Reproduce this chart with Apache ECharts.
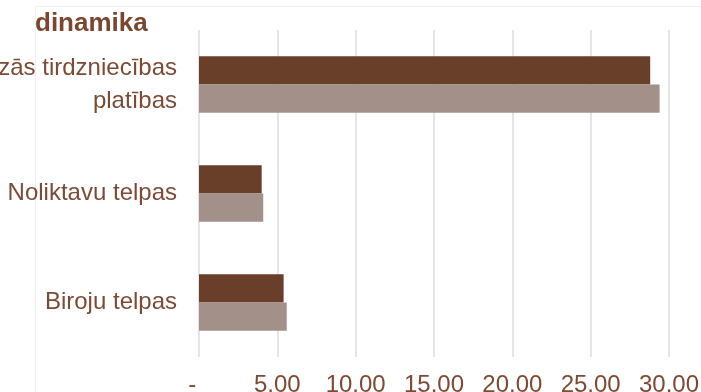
<!DOCTYPE html>
<html>
<head>
<meta charset="utf-8">
<script src="https://cdn.jsdelivr.net/npm/echarts@6/dist/echarts.min.js"></script>
<style>
html,body{margin:0;padding:0;background:#fff;}
#c{width:701px;height:392px;}
</style>
</head>
<body>
<div id="c"></div>
<script>
const titleText = 'dinamika';
const categories = ['Mazās tirdzniecības\nplatības', 'Noliktavu telpas', 'Biroju telpas'];
const seriesNames = ['Sērija 1', 'Sērija 2'];
const series1 = [28.8, 4.0, 5.4];
const series2 = [29.4, 4.1, 5.6];
const xTicks = { min: 0, max: 30, interval: 5 };

const textColor = '#7d4a34';
const fontFam = "'Liberation Sans', Arial, sans-serif";
const chart = echarts.init(document.getElementById('c'));
chart.setOption({
  animation: false,
  backgroundColor: '#ffffff',
  title: {
    text: titleText,
    left: 30,
    top: 6,
    textStyle: { fontFamily: fontFam, fontSize: 26, fontWeight: 'bold', color: '#7a4630' }
  },
  graphic: [{
    type: 'rect',
    silent: true,
    z: -10,
    shape: { x: 35.5, y: 6.5, width: 700, height: 420 },
    style: { fill: 'none', stroke: '#f0f0f0', lineWidth: 1 }
  }],
  grid: { left: 199, right: 32, top: 30, bottom: 35, containLabel: false, outerBoundsMode: 'none' },
  xAxis: {
    type: 'value',
    min: xTicks.min,
    max: xTicks.max,
    interval: xTicks.interval,
    axisLine: { show: false },
    axisTick: { show: false },
    splitLine: { show: true, lineStyle: { color: '#dcdcdc', width: 1.5 } },
    axisLabel: {
      margin: 16,
      color: textColor,
      fontFamily: fontFam,
      fontSize: 24,
      formatter: function (v) { return v === 0 ? '-  ' : v.toFixed(2); }
    }
  },
  yAxis: {
    type: 'category',
    inverse: true,
    data: categories,
    axisLine: { show: false },
    axisTick: { show: false },
    splitLine: { show: false },
    axisLabel: {
      margin: 22,
      color: textColor,
      fontFamily: fontFam,
      fontSize: 24,
      lineHeight: 33,
      align: 'right'
    }
  },
  series: [
    {
      name: seriesNames[0],
      type: 'bar',
      data: series1,
      barGap: '0%',
      barCategoryGap: '48%',
      itemStyle: { color: '#693f2a' }
    },
    {
      name: seriesNames[1],
      type: 'bar',
      data: series2,
      barGap: '0%',
      barCategoryGap: '48%',
      itemStyle: { color: '#a39089' }
    }
  ]
});
</script>
</body>
</html>
